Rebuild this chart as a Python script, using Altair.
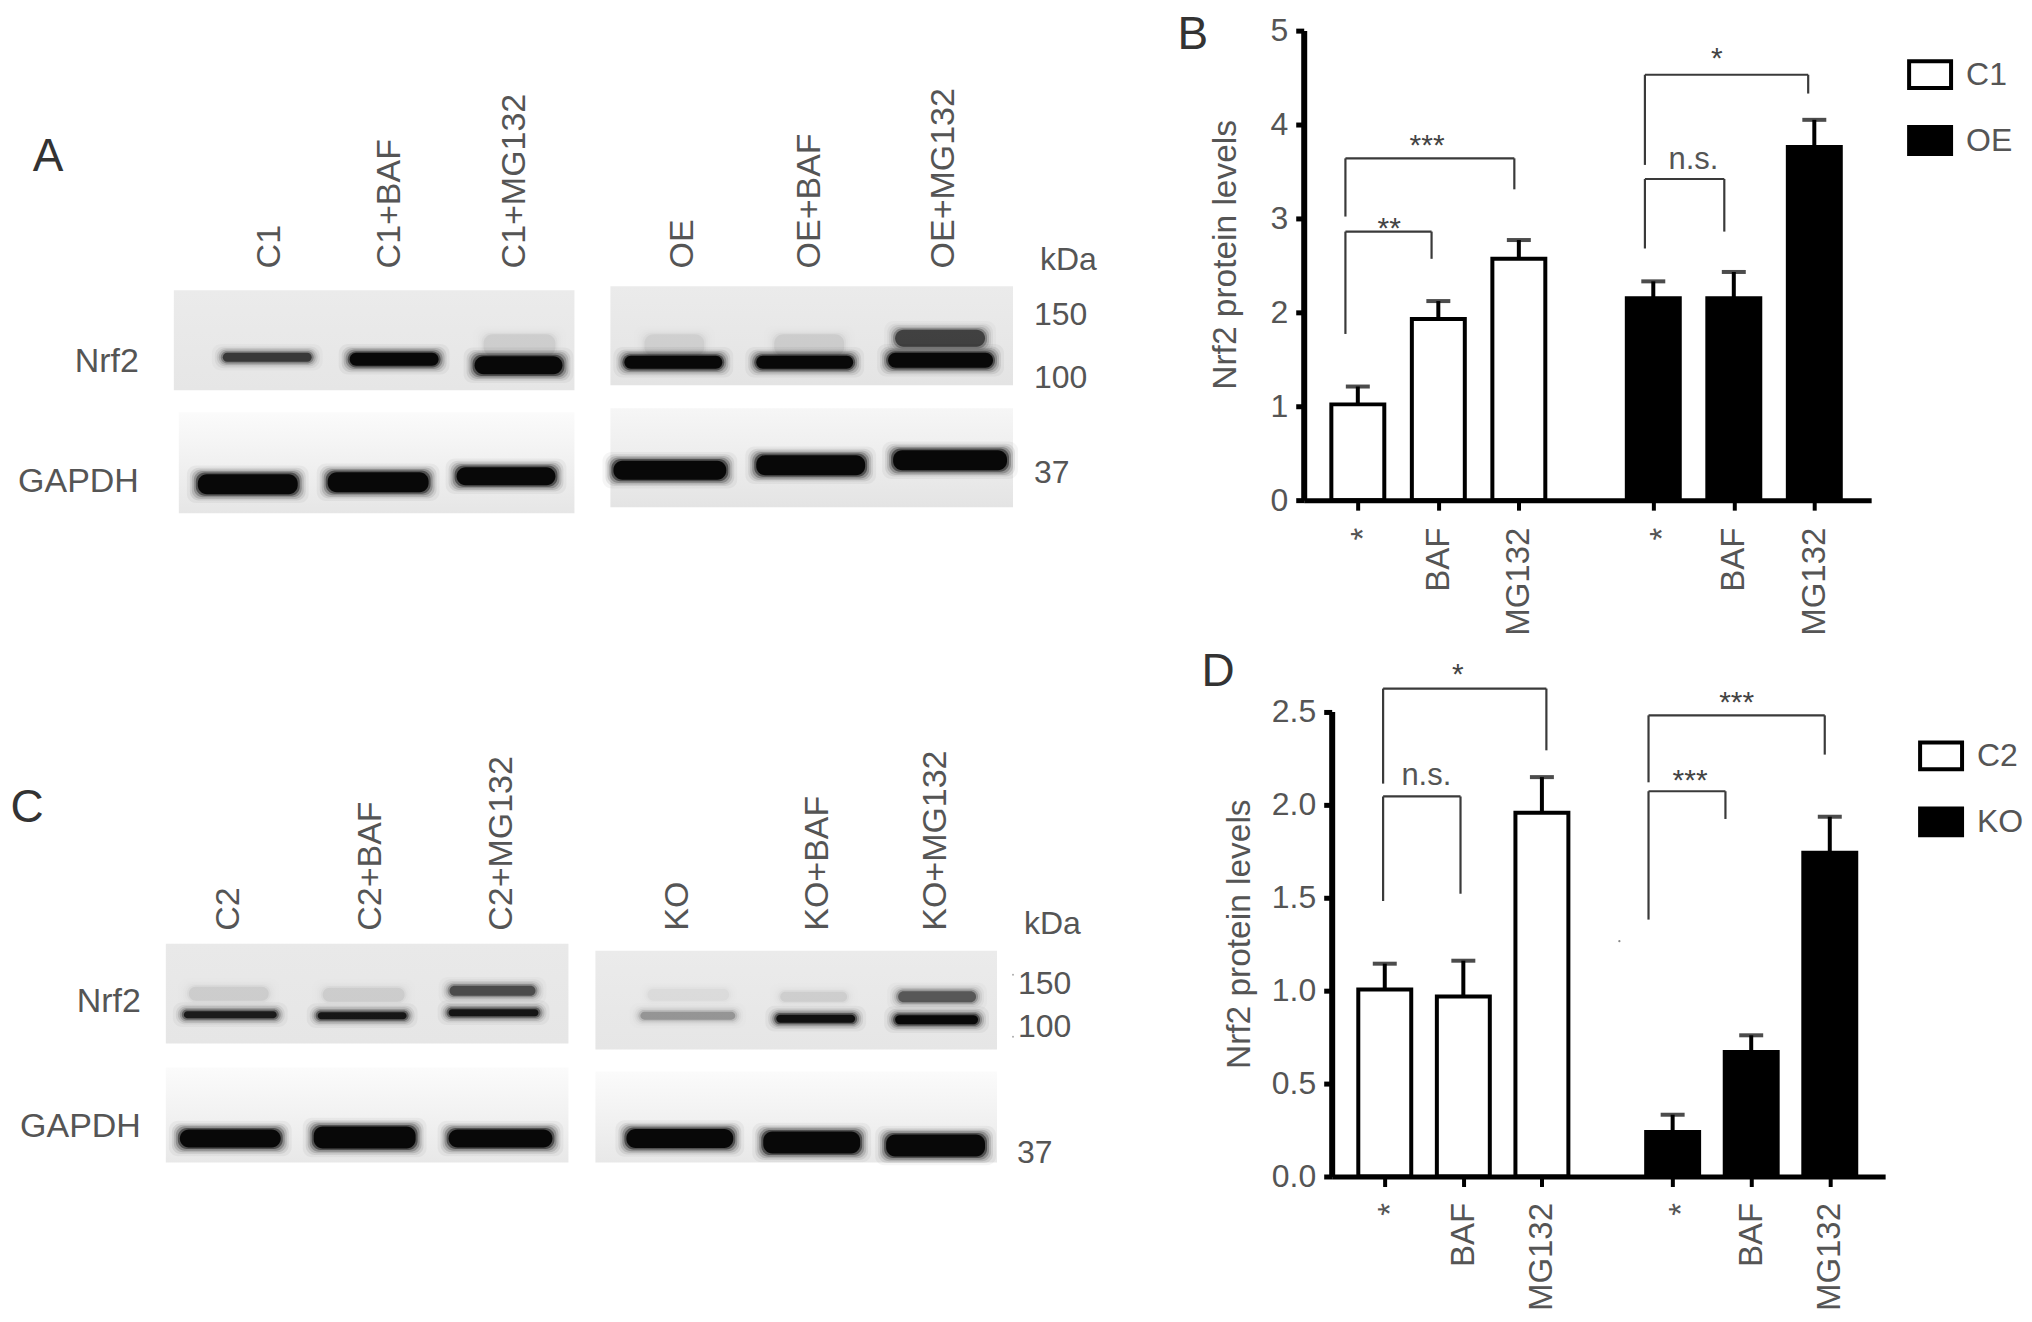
import json
import altair as alt
import pandas as pd

FONT = "Liberation Sans"
GREY = "#555555"

# ---------- bar chart data ----------
slots_b = [1, 2, 3, 4.67, 5.67, 6.67]
slots_d = [1, 2, 3, 4.664, 5.664, 6.664]
x_labels = ["*", "BAF", "MG132", "*", "BAF", "MG132"]
groups_b = ["C1", "C1", "C1", "OE", "OE", "OE"]
groups_d = ["C2", "C2", "C2", "KO", "KO", "KO"]
means_b = [1.02, 1.93, 2.57, 2.15, 2.15, 3.76]
errs_b = [1.21, 2.12, 2.77, 2.33, 2.43, 4.05]
means_d = [1.005, 0.968, 1.955, 0.239, 0.669, 1.741]
errs_d = [1.144, 1.16, 2.147, 0.332, 0.759, 1.934]

# bracket: left slot, right slot, top, left foot, right foot, label, label slot, label value
brackets_b = [
    (0.846, 1.916, 2.86, 1.77, 2.57, "**", 1.39, 2.93),
    (0.846, 2.944, 3.64, 3.02, 3.31, "***", 1.86, 3.81),
    (4.566, 5.552, 3.42, 2.68, 2.86, "n.s.", 5.168, 3.60),
    (4.566, 6.594, 4.53, 3.57, 4.33, "*", 5.46, 4.74),
]
brackets_d = [
    (0.979, 3.057, 2.623, 2.112, 2.291, "*", 1.929, 2.716),
    (0.979, 1.964, 2.043, 1.481, 1.520, "n.s.", 1.529, 2.143),
    (4.357, 6.600, 2.479, 2.119, 2.268, "***", 5.479, 2.565),
    (4.357, 5.336, 2.071, 1.381, 1.922, "***", 4.886, 2.147),
]

# ---------- blot data: x1, x2, centre y, thickness, darkness ----------
bg_a = [(174, 575, 290, 390, "#ebebeb", "#e6e6e6"), (179, 575, 412, 513, "#fbfbfb", "#e6e6e6"),
        (611, 1014, 286, 385, "#ebebeb", "#e4e4e4"), (611, 1014, 408, 507, "#f6f6f6", "#e4e4e4")]
bands_a = [
    (484, 556, 345, 22, .06), (645, 705, 345, 22, .05), (775, 845, 345, 22, .06),
    (896, 986, 338, 17, .55),
    (223, 312, 357, 9, .6), (350, 439, 359, 13, 1), (475, 563, 365, 18, 1),
    (625, 723, 362, 13, 1), (757, 854, 362, 13, 1), (889, 994, 360, 15, 1),
    (198, 298, 484, 20, 1), (328, 429, 482, 20, 1), (457, 556, 476, 18, 1),
    (614, 727, 470, 19, 1), (757, 866, 465, 20, 1), (894, 1008, 460, 20, 1),
]
lanes_a = ["C1", "C1+BAF", "C1+MG132", "OE", "OE+BAF", "OE+MG132"]
lanes_a_x = [270, 390, 516, 684, 811, 945]
lanes_a_y = 268
side_a = [("Nrf2", 139, 362), ("GAPDH", 139, 482)]
kda_a = [("kDa", 1041, 260), ("150", 1035, 315), ("100", 1035, 378), ("37", 1035, 473)]

bg_c = [(166, 569, 944, 1044, "#e9e9e9", "#e6e6e6"), (166, 569, 1068, 1163, "#fbfbfb", "#e8e8e8"),
        (596, 998, 951, 1050, "#ebebeb", "#e6e6e6"), (596, 998, 1072, 1163, "#fbfbfb", "#e8e8e8")]
bands_c = [
    (189, 269, 994, 14, .06), (323, 405, 995, 14, .06), (450, 536, 991, 10, .5),
    (648, 730, 995, 12, .03), (781, 848, 997, 10, .06), (899, 977, 997, 11, .45),
    (184, 277, 1015, 7, .8), (318, 407, 1016, 7, .85), (449, 539, 1013, 7, .85),
    (641, 736, 1016, 8, .22), (777, 856, 1019, 8, .9), (896, 979, 1020, 9, 1),
    (180, 281, 1139, 18, 1), (314, 416, 1138, 22, 1), (449, 553, 1139, 18, 1),
    (627, 734, 1139, 19, 1), (764, 861, 1143, 22, 1), (887, 986, 1146, 22, 1),
]
lanes_c = ["C2", "C2+BAF", "C2+MG132", "KO", "KO+BAF", "KO+MG132"]
lanes_c_x = [229, 371, 502, 679, 819, 937]
lanes_c_y = 931
side_c = [("Nrf2", 141, 1002), ("GAPDH", 141, 1127)]
kda_c = [("kDa", 1025, 924), ("150", 1019, 984), ("100", 1019, 1027), ("37", 1018, 1153)]
specks_c = [(1014, 975), (1014, 1037)]

halo = [(11, .04), (8, .08), (6, .13), (4, .22), (2, .45), (0, .97)]


def blot_panel(w, h, x0, y0, bgs, bands, lanes, lanes_x, lanes_y, side, kda, letter, specks=None):
    xs = alt.Scale(domain=[x0, x0 + w], range=[0, w], nice=False, zero=False)
    ys = alt.Scale(domain=[y0, y0 + h], range=[0, h], nice=False, zero=False)
    X = alt.X("x:Q", scale=xs, axis=None)
    Y = alt.Y("y:Q", scale=ys, axis=None)
    rows = []
    for a, b, yc, t, dark in bands:
        for e, al in halo:
            rows.append(dict(x=a - e, x2=b + e, y=yc - t / 2 - e * .8, y2=yc + t / 2 + e * .8,
                             o=al * dark))
    bd = pd.DataFrame(rows)
    base = dict(x=X, y=Y, x2="x2:Q", y2="y2:Q")
    layers = []
    for a, b, c, d, top, bottom in bgs:
        grad = alt.Gradient(gradient="linear", x1=0, x2=0, y1=0, y2=1,
                            stops=[alt.GradientStop(color=top, offset=0), alt.GradientStop(color=bottom, offset=1)])
        layers.append(alt.Chart(pd.DataFrame([dict(x=a, x2=b, y=c, y2=d)])).mark_rect(fill=grad).encode(**base))
    layers.append(alt.Chart(bd).mark_rect(fill="#060606", cornerRadius=9).encode(
        opacity=alt.Opacity("o:Q", scale=None), **base))
    txt = dict(font=FONT, color=GREY)
    ld = pd.DataFrame({"t": lanes, "x": lanes_x, "y": [lanes_y] * len(lanes)})
    layers.append(alt.Chart(ld).mark_text(angle=270, align="left", baseline="middle", fontSize=34, **txt)
                  .encode(x=X, y=Y, text="t:N"))
    sd = pd.DataFrame(side, columns=["t", "x", "y"])
    layers.append(alt.Chart(sd).mark_text(align="right", baseline="middle", fontSize=34, **txt)
                  .encode(x=X, y=Y, text="t:N"))
    kd = pd.DataFrame(kda, columns=["t", "x", "y"])
    layers.append(alt.Chart(kd).mark_text(align="left", baseline="middle", fontSize=32, **txt)
                  .encode(x=X, y=Y, text="t:N"))
    let = pd.DataFrame([letter], columns=["t", "x", "y"])
    layers.append(alt.Chart(let).mark_text(align="center", baseline="middle", fontSize=46, color="#333", font=FONT)
                  .encode(x=X, y=Y, text="t:N"))
    if specks:
        layers.append(alt.Chart(pd.DataFrame(specks, columns=["x", "y"])).mark_point(
            size=4, filled=True, color="#888").encode(x=X, y=Y))
    return alt.layer(*layers).properties(width=w, height=h)


def bar_panel(w, h, left, xdom, ymax, yr, slots, groups, means, errs, brackets, yticks, yfmt, dom, letter,
              title_xy, lx, ly, pad, stray=None):
    df = pd.DataFrame({"slot": slots, "m": means, "e": errs, "g": groups})
    xs = alt.Scale(domain=xdom, range=[left, w], nice=False, zero=False)
    ys = alt.Scale(domain=[0, ymax], range=[h, yr], nice=False, zero=False)
    expr = json.dumps(x_labels) + "[round(datum.index*5)]"
    star_shift = {"condition": [{"test": "datum.value == 1", "value": 6},
                                {"test": "datum.value > 4 && datum.value < 5", "value": 9}], "value": 0}
    xax = alt.Axis(values=slots, labelExpr=expr, title=None, grid=False, labelAngle=270, labelAlign="right",
                   labelBaseline="middle", labelFontSize=33, labelColor=GREY, labelFont=FONT, labelPadding=pad,
                   labelOffset=star_shift,
                   labelOverlap=False, labelBound=False, labelFlush=False, domainWidth=5, domainColor="black", tickWidth=4, tickSize=10,
                   tickColor="black", zindex=1)
    yax = alt.Axis(values=yticks, format=yfmt, title="Nrf2 protein levels", grid=False, labelFontSize=32, labelColor=GREY,
                   labelFont=FONT, labelPadding=8, labelOverlap=False, labelBound=False, labelFlush=False, domainWidth=6, domainColor="black",
                   tickWidth=5, tickSize=8, tickColor="black", titleFontSize=33.5, titleFont=FONT, titleFontWeight="normal",
                   titleColor=GREY, titleX=title_xy[0], titleY=title_xy[1], titleAngle=270, offset=-left, zindex=1)
    X = alt.X("slot:Q", scale=xs, axis=xax)
    Y = alt.Y("m:Q", scale=ys, axis=yax)
    legend = alt.Legend(title=None, orient="none", legendX=lx, legendY=ly, symbolType="M-1,-0.64H1V0.64H-1Z",
                        symbolSize=1764, symbolStrokeWidth=4, symbolStrokeColor="black", labelFontSize=32, labelColor=GREY,
                        labelFont=FONT, labelOffset=13, rowPadding=21, padding=0)
    bars = alt.Chart(df).mark_bar(size=53, stroke="black", strokeWidth=4).encode(
        x=X, y=Y, fill=alt.Fill("g:N", scale=alt.Scale(domain=dom, range=["white", "black"]), legend=legend,
                                sort=None))
    err = alt.Chart(df).mark_rule(strokeWidth=4, color="black").encode(x="slot:Q", y="m:Q", y2="e:Q")
    cap = alt.Chart(df).mark_tick(orient="horizontal", size=24, thickness=4, color="black").encode(
        x="slot:Q", y="e:Q")
    seg = []
    lab = []
    for a, b, top, fa, fb, t, tx, ty in brackets:
        seg += [dict(slot=a, x2=a, m=fa, y2=top), dict(slot=a, x2=b, m=top, y2=top), dict(slot=b, x2=b, m=top, y2=fb)]
        lab.append(dict(slot=tx, m=ty, t=t))
    sd = pd.DataFrame(seg)
    ld = pd.DataFrame(lab)
    rules = alt.Chart(sd).mark_rule(strokeWidth=2.2, color="#3a3a3a").encode(x="slot:Q", x2="x2:Q", y="m:Q", y2="y2:Q")
    stars = alt.Chart(ld[ld.t != "n.s."]).mark_text(fontSize=30, font=FONT, color="#444", baseline="middle", dy=4).encode(
        x="slot:Q", y="m:Q", text="t:N")
    ns = alt.Chart(ld[ld.t == "n.s."]).mark_text(fontSize=31, font=FONT, color=GREY, baseline="middle", dy=-2).encode(
        x="slot:Q", y="m:Q", text="t:N")
    let = alt.Chart(pd.DataFrame([letter], columns=["t", "slot", "m"])).mark_text(
        fontSize=46, font=FONT, color="#333", baseline="middle").encode(x="slot:Q", y="m:Q", text="t:N")
    layers = [bars, err, cap, rules, stars, ns, let]
    if stray:
        layers.append(alt.Chart(pd.DataFrame([stray], columns=["slot", "m"])).mark_point(
            size=5, filled=True, color="#555").encode(x="slot:Q", y="m:Q"))
    return alt.layer(*layers).properties(width=w, height=h)


panel_a = blot_panel(1297, 632, 8, 8, bg_a, bands_a, lanes_a, lanes_a_x, lanes_a_y, side_a, kda_a, ("A", 48, 157))
panel_c = blot_panel(1297, 670, 8, 640, bg_c, bands_c, lanes_c, lanes_c_x, lanes_c_y, side_c, kda_c, ("C", 27, 808), specks_c)
panel_b = bar_panel(568, 492, 0, [0.390, 7.314], 5, 22, slots_b, groups_b, means_b, errs_b, brackets_b,
                    [0, 1, 2, 3, 4, 5], "d", ["C1", "OE"], ("B", -1.05, 4.95), (-61, 246), 604, 43, 17)
panel_d = bar_panel(582, 537, 28, [0.388, 7.305], 2.5, 71.5, slots_d, groups_d, means_d, errs_d, brackets_d,
                    [0, .5, 1, 1.5, 2, 2.5], ".1f", ["C2", "KO"], ("D", -1.12, 2.71), (-75, 294), 615, 93, 16,
                    stray=(3.986, 1.265))

chart = alt.concat(panel_a, panel_b, panel_c, panel_d, columns=2, spacing=0, bounds="flush"
                   ).resolve_scale(x="independent", y="independent", fill="independent"
                   ).properties(padding=0, background="white").configure_view(strokeWidth=0)
chart.save("out.html", embed_options={"renderer": "svg", "actions": False})
